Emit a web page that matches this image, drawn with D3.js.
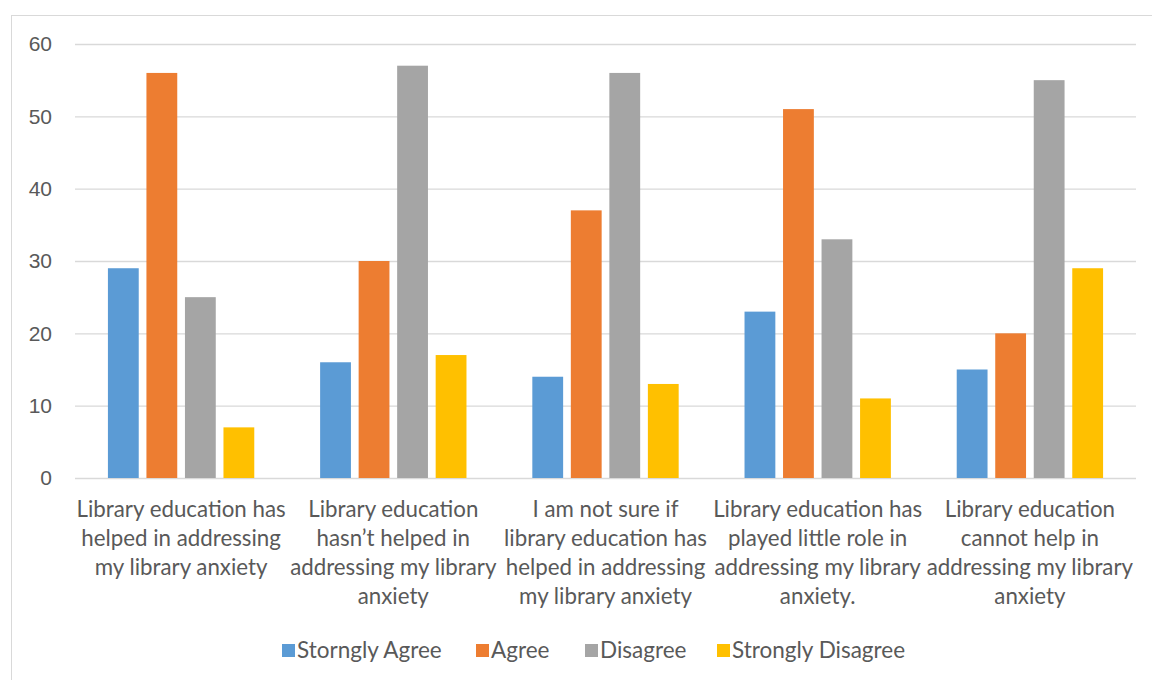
<!DOCTYPE html>
<html>
<head>
<meta charset="utf-8">
<script src="https://cdn.jsdelivr.net/npm/d3@7"></script>
<style>
  body { margin: 0; background: #fff; }
  svg { display: block; font-family: Lato, "Open Sans", sans-serif; }
  .tick text, .cat-label, .legend text { fill: #595959; }
</style>
</head>
<body>
<svg id="chart" width="1152" height="680"></svg>
<script>
const categoryLines = [
    ["Library education has", "helped in addressing", "my library anxiety"],
    ["Library education", "hasn\u2019t helped in", "addressing my library", "anxiety"],
    ["I am not sure if", "library education has", "helped in addressing", "my library anxiety"],
    ["Library education has", "played little role in", "addressing my library", "anxiety."],
    ["Library education", "cannot help in", "addressing my library", "anxiety"]
]
const seriesNames = ["Storngly Agree", "Agree", "Disagree", "Strongly Disagree"]
const seriesColors = ["#5B9BD5", "#ED7D31", "#A5A5A5", "#FFC000"]
const stronglyAgree = [29, 16, 14, 23, 15]
const agree = [56, 30, 37, 51, 20]
const disagree = [25, 57, 56, 33, 55]
const stronglyDisagree = [7, 17, 13, 11, 29]
const yTicks = [0, 10, 20, 30, 40, 50, 60]

const series = [stronglyAgree, agree, disagree, stronglyDisagree]
const svg = d3.select('#chart')

// outer chart border
svg.append('rect')
    .attr('x', 11.5).attr('y', 15.5)
    .attr('width', 1150).attr('height', 680)
    .attr('fill', 'none').attr('stroke', '#d9d9d9').attr('stroke-width', 1)

const plot = { left: 75, right: 1136, top: 44, bottom: 478 }

const y = d3.scaleLinear().domain([0, 60]).range([plot.bottom, plot.top])
const x0 = d3.scaleBand().domain(d3.range(categoryLines.length))
    .range([plot.left, plot.right]).paddingInner(0.274).paddingOuter(0.137)
const x1 = d3.scaleBand().domain(d3.range(series.length))
    .range([0, x0.bandwidth()]).paddingInner(0.2).paddingOuter(0.1)

// gridlines + y labels
const yAxis = d3.axisLeft(y).tickValues(yTicks).tickSize(-(plot.right - plot.left)).tickPadding(23)
const yG = svg.append('g').attr('transform', `translate(${plot.left},0)`).call(yAxis)
yG.select('.domain').remove()
yG.selectAll('.tick line').attr('stroke', '#d9d9d9').attr('stroke-width', 1.3)
yG.selectAll('.tick text').attr('font-size', 21)

// bars
const groups = svg.append('g').selectAll('g').data(categoryLines).enter().append('g')
    .attr('transform', (d, i) => `translate(${x0(i)},0)`)
groups.selectAll('rect').data((d, i) => series.map((s, k) => ({ k, v: s[i] }))).enter().append('rect')
    .attr('x', d => x1(d.k))
    .attr('y', d => y(d.v))
    .attr('width', x1.bandwidth())
    .attr('height', d => y(0) - y(d.v))
    .attr('fill', d => seriesColors[d.k])

// category labels
const lineStep = 29
categoryLines.forEach((lines, i) => {
    svg.append('text')
        .attr('class', 'cat-label')
        .attr('x', x0(i) + x0.bandwidth() / 2)
        .attr('y', 517)
        .attr('text-anchor', 'middle')
        .attr('font-size', 22.3)
        .selectAll('tspan').data(lines).enter().append('tspan')
        .attr('x', x0(i) + x0.bandwidth() / 2)
        .attr('dy', (d, j) => j === 0 ? 0 : lineStep)
        .text(d => d)
})

// legend
const legendX = [282, 476, 585, 717]
const legend = svg.append('g').attr('class', 'legend')
seriesNames.forEach((name, k) => {
    legend.append('rect')
        .attr('x', legendX[k]).attr('y', 644)
        .attr('width', 13).attr('height', 13)
        .attr('fill', seriesColors[k])
    legend.append('text')
        .attr('x', legendX[k] + 15).attr('y', 658)
        .attr('font-size', 22.5)
        .text(name)
})
</script>
</body>
</html>
